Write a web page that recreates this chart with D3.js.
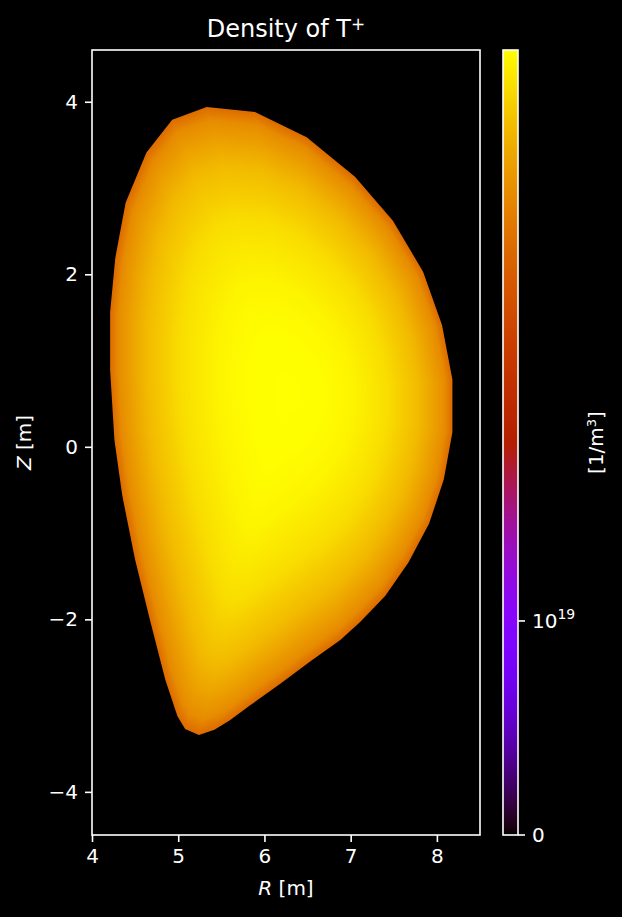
<!DOCTYPE html>
<html><head><meta charset="utf-8">
<script src="https://cdn.jsdelivr.net/npm/d3@7"></script>
<style>
html,body{margin:0;padding:0;background:#000;}
svg{display:block;}
text{font-family:"DejaVu Sans",sans-serif;fill:#fff;}
</style>
</head><body><div id="chart"></div>
<script>
// ---- data ----
const boundaryR = [5.33, 5.89, 6.49, 7.05, 7.49, 7.84, 8.06, 8.18, 8.18, 8.08, 7.91, 7.67, 7.40, 7.11, 6.88, 6.53, 6.18, 5.83, 5.60, 5.42, 5.24, 5.08, 4.99, 4.85, 4.67, 4.50, 4.35, 4.26, 4.21, 4.21, 4.27, 4.39, 4.63, 4.93];
const boundaryZ = [3.94, 3.88, 3.59, 3.13, 2.62, 2.03, 1.41, 0.78, 0.17, -0.38, -0.89, -1.34, -1.73, -2.03, -2.24, -2.49, -2.75, -3.00, -3.17, -3.28, -3.34, -3.27, -3.12, -2.70, -2.00, -1.31, -0.56, 0.08, 0.89, 1.56, 2.19, 2.83, 3.41, 3.79];
const magAxisR = 6.27, magAxisZ = 0.62;
const profileRho = [0, 0.2, 0.4, 0.6, 0.8, 0.9, 1.0];
const profileDensity = [5.3e19, 5.27e19, 5.05e19, 4.6e19, 3.85e19, 3.3e19, 2.75e19];
const xTicks = [4, 5, 6, 7, 8];
const yTicks = [-4, -2, 0, 2, 4];
const cbarTicks = [0, 1e19];
const cbarTickBase = ["0", "10"];
const cbarTickExp = ["", "19"];
const normLinthresh = 3e19, normVmin = 0, normVmax = 5.3e19;

// ---- layout ----
const W = 622, H = 917;
const plot = {x0: 92, x1: 480, y0: 50, y1: 835};
const cb = {x0: 503, x1: 518};

const svg = d3.select("#chart").append("svg").attr("width", W).attr("height", H)
  .style("background", "#000");
svg.append("rect").attr("width", W).attr("height", H).attr("fill", "#000");

const x = d3.scaleLinear().domain([4, 8.5]).range([plot.x0, plot.x1]);
const y = d3.scaleLinear().domain([-4.5, 4.6]).range([plot.y1, plot.y0]);

// symlog norm (matplotlib style)
const linscaleAdj = 1 / (1 - 1 / 10);
function symlog(v) {
  const a = Math.abs(v);
  const t = a <= normLinthresh ? a * linscaleAdj : normLinthresh * (linscaleAdj + Math.log10(a / normLinthresh));
  return Math.sign(v) * t;
}
const norm = v => (symlog(v) - symlog(normVmin)) / (symlog(normVmax) - symlog(normVmin));
function gnuplot(f) {
  f = Math.max(0, Math.min(1, f));
  const r = Math.sqrt(f), g = f * f * f, b = Math.max(0, Math.min(1, Math.sin(2 * Math.PI * f)));
  return [Math.round(r * 255), Math.round(g * 255), Math.round(b * 255)];
}
const profile = d3.scaleLinear().domain(profileRho).range(profileDensity).clamp(true);

// ---- field raster ----
const pw = plot.x1 - plot.x0, ph = plot.y1 - plot.y0;
const canvas = document.createElement("canvas");
canvas.width = pw; canvas.height = ph;
const ctx = canvas.getContext("2d");
const img = ctx.createImageData(pw, ph);
const n = boundaryR.length;
for (let j = 0; j < ph; j++) {
  const Z = y.invert(plot.y0 + j + 0.5);
  for (let i = 0; i < pw; i++) {
    const R = x.invert(plot.x0 + i + 0.5);
    const dx = R - magAxisR, dz = Z - magAxisZ;
    let tmin = Infinity;
    if (!(dx === 0 && dz === 0)) {
      for (let k = 0; k < n; k++) {
        const p1r = boundaryR[k], p1z = boundaryZ[k];
        const p2r = boundaryR[(k + 1) % n], p2z = boundaryZ[(k + 1) % n];
        const er = p2r - p1r, ez = p2z - p1z;
        const den = dx * ez - dz * er;
        if (Math.abs(den) < 1e-12) continue;
        const ar = p1r - magAxisR, az = p1z - magAxisZ;
        const t = (ar * ez - az * er) / den;
        const s = (ar * dz - az * dx) / den;
        if (t > 0 && s >= -1e-9 && s <= 1 + 1e-9 && t < tmin) tmin = t;
      }
    }
    const rho = tmin === Infinity ? 0 : 1 / tmin;
    if (rho > 1.1) continue;
    const c = gnuplot(norm(profile(rho)));
    const idx = (j * pw + i) * 4;
    img.data[idx] = c[0]; img.data[idx + 1] = c[1]; img.data[idx + 2] = c[2]; img.data[idx + 3] = 255;
  }
}
ctx.putImageData(img, 0, 0);

const defs = svg.append("defs");
const pts = boundaryR.map((r, i) => [r, boundaryZ[i]]);
const line = d3.line().x(d => x(d[0])).y(d => y(d[1])).curve(d3.curveLinearClosed);
defs.append("clipPath").attr("id", "sep").append("path").attr("d", line(pts));

svg.append("image").attr("x", plot.x0).attr("y", plot.y0).attr("width", pw).attr("height", ph)
  .attr("preserveAspectRatio", "none")
  .attr("href", canvas.toDataURL()).attr("clip-path", "url(#sep)");

// ---- axes ----
const axisColor = "#fff";
svg.append("rect").attr("x", plot.x0).attr("y", plot.y0).attr("width", pw).attr("height", ph)
  .attr("fill", "none").attr("stroke", axisColor).attr("stroke-width", 1.6);

const xg = svg.append("g").attr("transform", `translate(0,${plot.y1})`)
  .call(d3.axisBottom(x).tickValues(xTicks).tickSize(7).tickPadding(7).tickFormat(d3.format("d")));
const yg = svg.append("g").attr("transform", `translate(${plot.x0},0)`)
  .call(d3.axisLeft(y).tickValues(yTicks).tickSize(7).tickPadding(7).tickFormat(d => d < 0 ? "\u2212" + Math.abs(d) : String(d)));
[xg, yg].forEach(g => {
  g.select(".domain").remove();
  g.selectAll(".tick line").attr("stroke", axisColor).attr("stroke-width", 1.6);
  g.selectAll(".tick text").attr("fill", "#fff").style("font-size", "20px").style("font-family", "DejaVu Sans");
});

// axis labels
const xl = svg.append("text").attr("x", (plot.x0 + plot.x1) / 2).attr("y", 895).attr("text-anchor", "middle").style("font-size", "20px");
xl.append("tspan").style("font-style", "italic").text("R");
xl.append("tspan").text(" [m]");
const yl = svg.append("text").attr("transform", `translate(31,${(plot.y0 + plot.y1) / 2}) rotate(-90)`).attr("text-anchor", "middle").style("font-size", "20px");
yl.append("tspan").style("font-style", "italic").text("Z");
yl.append("tspan").text(" [m]");

// title
const tt = svg.append("text").attr("x", (plot.x0 + plot.x1) / 2).attr("y", 37).attr("text-anchor", "middle").style("font-size", "24px");
tt.append("tspan").text("Density of T");
tt.append("tspan").attr("dy", -7).style("font-size", "17px").text("+");

// ---- colorbar ----
const cbY = d3.scaleLinear().domain([0, 1]).range([plot.y1, plot.y0]);
const grad = defs.append("linearGradient").attr("id", "cbgrad").attr("x1", 0).attr("y1", 1).attr("x2", 0).attr("y2", 0);
const stops = d3.range(0, 1.0001, 0.01);
stops.forEach(f => {
  const c = gnuplot(f);
  grad.append("stop").attr("offset", f).attr("stop-color", `rgb(${c[0]},${c[1]},${c[2]})`);
});
svg.append("rect").attr("x", cb.x0).attr("y", cbY(1)).attr("width", cb.x1 - cb.x0).attr("height", cbY(0) - cbY(1))
  .attr("fill", "url(#cbgrad)").attr("stroke", axisColor).attr("stroke-width", 1.6);
cbarTicks.forEach((v, i) => {
  const ty = cbY(norm(v));
  svg.append("line").attr("x1", cb.x1).attr("x2", cb.x1 + 7).attr("y1", ty).attr("y2", ty)
    .attr("stroke", axisColor).attr("stroke-width", 1.6);
  const t = svg.append("text").attr("x", cb.x1 + 14).attr("y", ty + 7).style("font-size", "20px");
  t.append("tspan").text(cbarTickBase[i]);
  if (cbarTickExp[i]) t.append("tspan").attr("dy", -9).style("font-size", "14px").text(cbarTickExp[i]);
});
const cl = svg.append("text").attr("transform", `translate(603,${(plot.y0 + plot.y1) / 2}) rotate(-90)`).attr("text-anchor", "middle").style("font-size", "20px");
cl.append("tspan").text("[1/m");
cl.append("tspan").attr("dy", -7).style("font-size", "13px").text("3");
cl.append("tspan").attr("dy", 7).text("]");
</script>
</body></html>
